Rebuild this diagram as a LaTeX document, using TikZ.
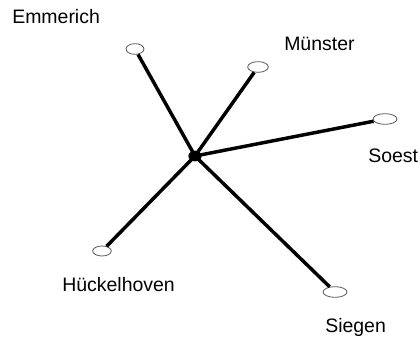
\documentclass[tikz,border=0pt]{standalone}
\usepackage{fontspec}
\setmainfont{Liberation Sans}
\usetikzlibrary{shapes.geometric}
\begin{document}
\begin{tikzpicture}[x=0.75pt,y=-0.75pt,
  town/.style={draw=gray!70!black,line width=0.6pt,fill=white,shape=ellipse,inner sep=0pt},
  hub/.style={fill=black,shape=ellipse,inner sep=0pt,minimum width=10pt,minimum height=8pt},
  link/.style={line width=2.6pt,black},
  lbl/.style={anchor=base west,inner sep=0pt,font=\fontsize{14.6pt}{16pt}\selectfont}]
\useasboundingbox (0,0) rectangle (420,338);
\node[hub] (c) at (195,156) {};
\node[town,minimum width=13.5pt,minimum height=8pt] (em) at (135,49) {};
\node[town,minimum width=15.5pt,minimum height=8pt] (mu) at (258,67) {};
\node[town,minimum width=18pt,minimum height=8pt] (so) at (385,119) {};
\node[town,minimum width=14pt,minimum height=7.5pt] (hu) at (102,251) {};
\node[town,minimum width=18pt,minimum height=8pt] (si) at (335,292) {};
\draw[link] (c.center) -- (em);
\draw[link] (c.center) -- (mu);
\draw[link] (c.center) -- (so);
\draw[link] (c.center) -- (hu);
\draw[link] (c.center) -- (si);
\node[lbl] (tem) at (12,24) {Emmerich};
\node[lbl] (tmu) at (284,51) {Münster};
\node[lbl] (tso) at (368,163) {Soest};
\node[lbl] (thu) at (62,291) {Hückelhoven};
\node[lbl] (tsi) at (325,332) {Siegen};
\end{tikzpicture}
\end{document}
